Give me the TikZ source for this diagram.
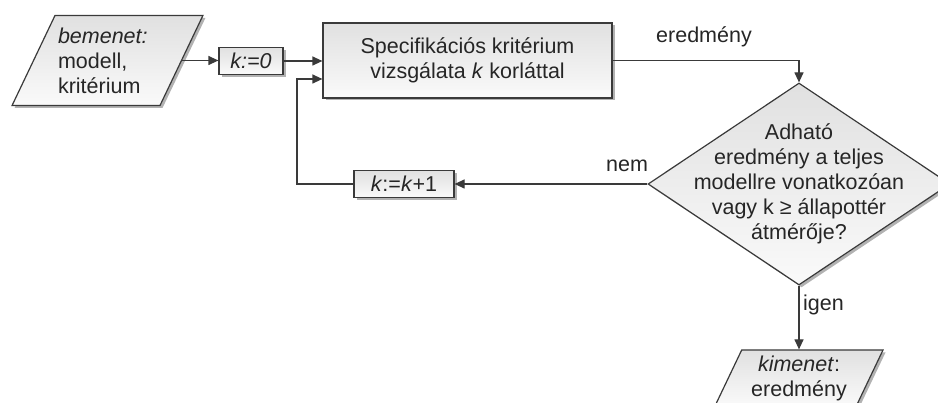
\documentclass[tikz,border=0pt]{standalone}
\usepackage{fontspec}
\setmainfont{Liberation Sans}
\usetikzlibrary{arrows.meta,shapes.geometric,shadows,calc}
\definecolor{ink}{HTML}{262626}
\definecolor{edge}{HTML}{3A3A3A}
\begin{document}
\begin{tikzpicture}[x=1pt,y=-1pt,
  font=\fontsize{21.5}{25}\selectfont, text=ink,
  boxshade/.style={draw=edge, line width=1.2pt, top color=black!12, bottom color=black!2,
    drop shadow={shadow xshift=2.5pt, shadow yshift=-2.5pt, fill=black, opacity=0.3}},
  procbox/.style={boxshade, rectangle, inner sep=0pt},
  iobox/.style={boxshade, trapezium, trapezium left angle=64.5, trapezium right angle=115.5,
    inner sep=0pt},
  decision/.style={boxshade, diamond, inner sep=0pt},
  link/.style={draw=edge, line width=1.2pt, -{Triangle[length=10pt,width=9pt]}},
  tag/.style={inner sep=0pt}
]
\useasboundingbox (0,0) rectangle (938,403);
\clip (0,0) rectangle (938,403);

% flowchart blocks
\node[iobox] (in) at (107.5,60.5)
  {\parbox[c][90pt][c]{105pt}{\raggedright\hspace*{3pt}\textit{bemenet:}\\\hspace*{3pt}modell,\\\hspace*{3pt}kritérium}};
\node[procbox, minimum width=64pt, minimum height=27pt] (k0) at (251,61) {\textit{k:=0}};
\node[procbox, minimum width=289pt, minimum height=75pt, align=center] (spec) at (467.5,60.5)
  {Specifikációs kritérium\\vizsgálata \textit{k} korláttal};
\node[decision, minimum width=302pt, minimum height=202pt,
  label={[align=center]center:{Adható\\eredmény a teljes\\modellre vonatkozóan\\vagy k ≥ állapottér\\átmérője?}}] (dec) at (799,184) {};
\node[procbox, minimum width=100pt, minimum height=27pt] (kk) at (404,184) {\textit{k}:=\textit{k}+1};
\node[iobox] (out) at (799,378)
  {\parbox[c][56pt][c]{114.6pt}{\centering\textit{kimenet}:\\eredmény}};

% loop corner points
\coordinate (bend) at (297,184);
\coordinate (entry) at ($(spec.west)+(0,18.5)$);

% connectors
\draw[link] (in.east) -- (in.east -| k0.west);
\draw[link] (k0.east) -- (k0.east -| spec.west);
\draw[link] (kk.west) -- (bend) |- (entry);
\draw[link] (spec.east) -| (dec.north);
\draw[link] (dec.west) -- (kk.east);
\draw[link] (dec.south) -- (dec.south |- out.north);

% branch labels
\node[tag] (lres) at (704,37) {eredmény};
\node[tag] (lno) at (627,166) {nem};
\node[tag, anchor=west] (lyes) at (803,305) {igen};
\end{tikzpicture}
\end{document}
